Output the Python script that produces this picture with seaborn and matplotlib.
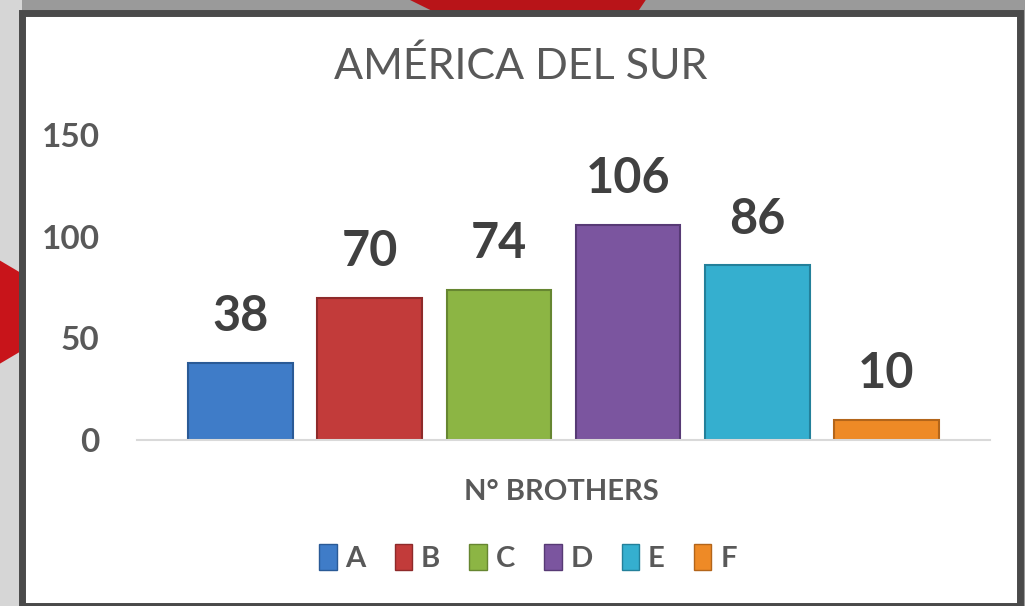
import matplotlib
matplotlib.use("Agg")
import matplotlib.pyplot as plt
import matplotlib.patches as mpatches
import seaborn as sns
import pandas as pd

# datos
series = ["A", "B", "C", "D", "E", "F"]
values = [38, 70, 74, 106, 86, 10]
colors = ["#3f7cc8", "#c23b3a", "#8cb544", "#7b559f", "#35afcf", "#ee8a26"]
edges = ["#2a5a96", "#8e2a2a", "#668631", "#573a75", "#23809a", "#b3651a"]
yticks = [0, 50, 100, 150]

sns.set_theme(style="white")
plt.rcParams["font.family"] = ["Lato", "DejaVu Sans"]

df = pd.DataFrame({"serie": series, "valor": values})

fig = plt.figure(figsize=(10.25, 6.06), dpi=100)
fig.patch.set_facecolor("#9a9a9a")

# marco de fondo
fig.patches.append(mpatches.Rectangle((0, 0), 22 / 1025, 1, transform=fig.transFigure,
                                      facecolor="#d6d6d6", edgecolor="none", zorder=-3))
fig.patches.append(mpatches.Polygon([(0, 0.40), (0.02, 0.42), (0.02, 0.55), (0.0, 0.57)],
                                    closed=True, transform=fig.transFigure,
                                    facecolor="#c8141a", edgecolor="none", zorder=-2))
fig.patches.append(mpatches.Polygon([(0.40, 1.0), (0.63, 1.0), (0.62, 0.975), (0.43, 0.975)],
                                    closed=True, transform=fig.transFigure,
                                    facecolor="#b81418", edgecolor="none", zorder=-2))
fig.patches.append(mpatches.Rectangle((22 / 1025, 0), (1020 - 22) / 1025, 1 - 13 / 606,
                                      transform=fig.transFigure, facecolor="white",
                                      edgecolor="#4a4a4a", linewidth=5, zorder=-1))

ax = fig.add_axes([0.1337, 0.274, 0.832, 0.503])
ax.set_zorder(5)
ax.set_facecolor("none")
sns.barplot(data=df, x="serie", y="valor", hue="serie", palette=colors,
            width=0.81, legend=False, ax=ax, saturation=1)
for p, ec in zip(ax.patches, edges):
    p.set_edgecolor(ec)
    p.set_linewidth(1.5)

for c in ax.containers:
    ax.bar_label(c, padding=17, fontsize=35, fontweight="bold", color="#404040")

ax.set_xlim(-0.8, 5.8)
ax.set_ylim(0, 150)
ax.set_yticks(yticks)
ax.set_yticklabels([str(t) for t in yticks], fontsize=24, fontweight="bold", color="#595959")
ax.tick_params(axis="y", length=0, pad=27)
ax.set_xticks([])
ax.set_xlabel("")
ax.set_ylabel("")
for s in ["top", "right", "left"]:
    ax.spines[s].set_visible(False)
ax.spines["bottom"].set_color("#d9d9d9")
ax.spines["bottom"].set_linewidth(1.5)

fig.text(0.508, 1 - 66 / 606, "AMÉRICA DEL SUR", ha="center", va="center",
         fontsize=31, color="#595959")
fig.text(0.5475, 1 - 492 / 606, "N° BROTHERS", ha="center", va="center",
         fontsize=21, fontweight="bold", color="#595959")

handles = [mpatches.Patch(facecolor=c, edgecolor=e, label=s)
           for s, c, e in zip(series, colors, edges)]
fig.legend(handles=handles, loc="center", bbox_to_anchor=(0.515, 1 - 558 / 606),
           ncol=6, frameon=False, handlelength=0.6, handleheight=1.0,
           handletextpad=0.3, columnspacing=1.0,
           prop={"size": 21, "weight": "bold"}, labelcolor="#595959")

fig.savefig("out.png", dpi=100, facecolor=fig.get_facecolor())
